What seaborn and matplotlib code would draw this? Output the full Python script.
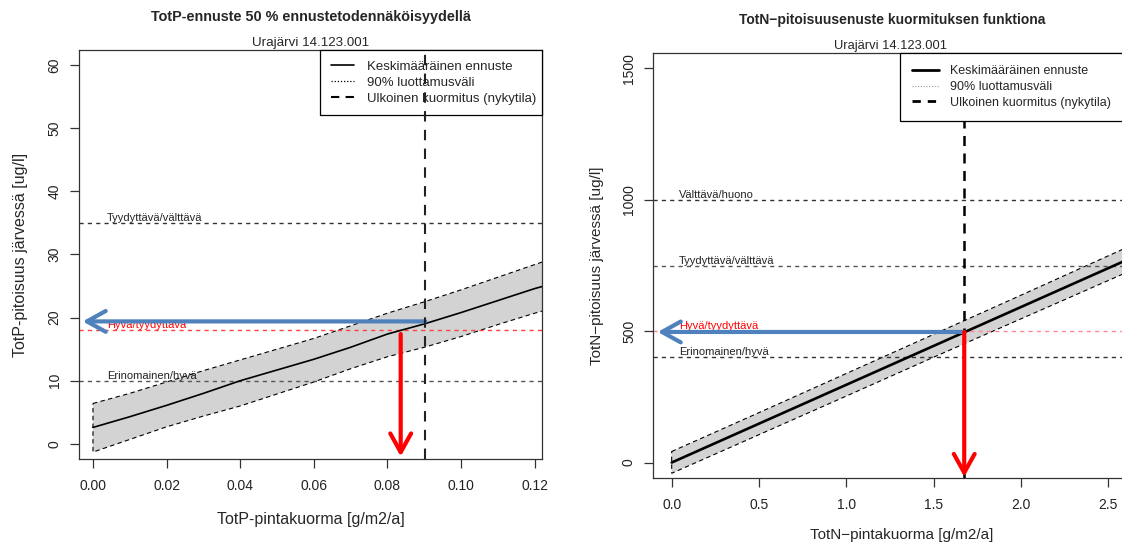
import seaborn as sns
import matplotlib.pyplot as plt
from matplotlib.lines import Line2D
import numpy as np

sns.set_style("ticks")
plt.rcParams['font.family'] = ['Liberation Sans', 'DejaVu Sans']

# --- TotP panel data ---
tp_load = [0.00, 0.01, 0.02, 0.03, 0.04, 0.05, 0.06, 0.07, 0.08, 0.09, 0.10, 0.11, 0.12, 0.1225]
tp_mean = [2.6, 4.3, 6.1, 8.0, 10.0, 11.7, 13.4, 15.3, 17.4, 19.0, 20.8, 22.7, 24.6, 25.0]
tp_upper = [6.4, 8.0, 9.8, 11.6, 13.3, 15.0, 16.7, 18.7, 20.7, 22.5, 24.4, 26.4, 28.4, 28.9]
tp_lower = [-1.3, 0.7, 2.7, 4.4, 6.0, 7.9, 9.8, 11.9, 13.8, 15.3, 17.0, 18.9, 20.7, 21.1]
tp_limits = [35, 18, 10]
tp_limit_names = ["Tyydyttävä/välttävä", "Hyvä/tyydyttävä", "Erinomainen/hyvä"]
tp_current = 0.0903
tp_target_conc = 19.4
tp_target_load = 0.0836

# --- TotN panel data ---
tn_load = [0.0, 0.5, 1.0, 1.5, 2.0, 2.5, 2.75]
tn_mean = [0, 148, 296, 444, 592, 740, 814]
tn_upper = [42, 190, 339, 488, 637, 787, 862]
tn_lower = [-41, 106, 253, 401, 547, 693, 766]
tn_limits = [1000, 750, 500, 400]
tn_limit_names = ["Välttävä/huono", "Tyydyttävä/välttävä", "Hyvä/tyydyttävä", "Erinomainen/hyvä"]
tn_current = 1.675
tn_target_conc = 497

legend_labels = ["Keskimääräinen ennuste", "90% luottamusväli", "Ulkoinen kuormitus (nykytila)"]

BLUE = "#4F81BD"
RED = "#FF0000"

fig = plt.figure(figsize=(11.22, 5.48), dpi=100)
ax1 = fig.add_axes([0.0704, 0.1624, 0.4127, 0.7464])
ax2 = fig.add_axes([0.5823, 0.1272, 0.4421, 0.7766])


def band(ax, x, lo, hi, lw):
    xs = list(x) + list(x)[::-1]
    ys = list(hi) + list(lo)[::-1]
    ax.fill(xs, ys, facecolor="#D3D3D3", edgecolor="black", linestyle=(0, (4, 3)),
            linewidth=lw, zorder=1)


def style_axes(ax):
    for s in ax.spines.values():
        s.set_linewidth(0.9)
        s.set_color("#333333")
    ax.tick_params(axis="both", direction="out", length=6.5, width=0.9, colors="#333333",
                   labelcolor="#222222", labelsize=10)
    ax.tick_params(axis="x", pad=8)
    ax.tick_params(axis="y", pad=6, labelrotation=90)
    plt.setp(ax.get_yticklabels(), va="center")


def arrow(ax, start, end, color):
    ax.annotate("", xy=end, xytext=start,
                arrowprops=dict(arrowstyle="->,head_length=0.9,head_width=0.5", lw=3,
                                color=color, shrinkA=0, shrinkB=0, mutation_scale=15,
                                capstyle="round", joinstyle="round"), zorder=5)


# ---------------- left: TotP ----------------
ax = ax1
band(ax, tp_load, tp_lower, tp_upper, 0.8)
sns.lineplot(x=tp_load, y=tp_mean, ax=ax, color="black", lw=1.2, zorder=3)
lim_cols = ["#333333", "#FF4040", "#555555"]
for v, name, c in zip(tp_limits, tp_limit_names, lim_cols):
    ax.axhline(v, color=c, lw=1, linestyle=(0, (3, 3)), zorder=2)
    ax.text(0.0038, v, name, fontsize=8, color=("#FF0000" if c == "#FF4040" else "#222222"),
            va="bottom", ha="left", zorder=4)
ax.axvline(tp_current, color="#222222", lw=1.5, linestyle=(0, (5, 4)), zorder=8)
arrow(ax, (tp_current, tp_target_conc), (-0.0028, tp_target_conc), BLUE)
arrow(ax, (tp_target_load, 17.4), (tp_target_load, -2.0), RED)
ax.set_xlim(-0.0038, 0.122)
ax.set_ylim(-2.4, 62.4)
ax.set_xticks([0.00, 0.02, 0.04, 0.06, 0.08, 0.10, 0.12])
ax.set_xticklabels(["0.00", "0.02", "0.04", "0.06", "0.08", "0.10", "0.12"])
ax.set_yticks([0, 10, 20, 30, 40, 50, 60])
style_axes(ax)
ax.set_xlabel("TotP-pintakuorma [g/m2/a]", fontsize=11.5, va="center")
ax.set_ylabel("TotP-pitoisuus järvessä [ug/l]", fontsize=11.5, va="center")
ax.xaxis.set_label_coords(0.5, -0.149)
ax.yaxis.set_label_coords(-0.126, 0.5)
h1 = [Line2D([], [], color="black", lw=1.2),
      Line2D([], [], color="black", lw=0.9, linestyle=(0, (1, 1.5))),
      Line2D([], [], color="black", lw=1.5, linestyle=(0, (4, 3)))]
lg = ax.legend(h1, legend_labels,
               loc="upper left", bbox_to_anchor=(0.5205, 1.0, 0.4795, 0.0), mode="expand",
               borderaxespad=0, fancybox=False,
               framealpha=1, edgecolor="black", fontsize=9.5, handlelength=1.75,
               handletextpad=1.0, labelspacing=0.28, borderpad=0.8)
lg.get_frame().set_linewidth(0.9)
lg.set_zorder(6)

# ---------------- right: TotN ----------------
ax = ax2
band(ax, tn_load, tn_lower, tn_upper, 0.8)
sns.lineplot(x=tn_load, y=tn_mean, ax=ax, color="black", lw=1.9, zorder=3)
lim_cols = ["#333333", "#555555", "#FF8A8A", "#333333"]
for v, name, c in zip(tn_limits, tn_limit_names, lim_cols):
    ax.axhline(v, color=c, lw=1, linestyle=(0, (3, 3)), zorder=2)
    ax.text(0.042, v, name, fontsize=8, color=("#FF0000" if c == "#FF8A8A" else "#222222"),
            va="bottom", ha="left", zorder=4)
ax.axvline(tn_current, color="black", lw=1.8, linestyle=(0, (4, 3)), zorder=4)
arrow(ax, (tn_current, tn_target_conc), (-0.08, tn_target_conc), BLUE)
arrow(ax, (tn_current, tn_target_conc), (tn_current, -55), RED)
ax.set_xlim(-0.105, 2.735)
ax.set_ylim(-60, 1560)
ax.set_xticks([0.0, 0.5, 1.0, 1.5, 2.0, 2.5])
ax.set_yticks([0, 500, 1000, 1500])
style_axes(ax)
ax.set_xlabel("TotN\u2212pintakuorma [g/m2/a]", fontsize=11, va="center")
ax.set_ylabel("TotN\u2212pitoisuus järvessä [ug/l]", fontsize=11, va="center")
ax.xaxis.set_label_coords(0.5, -0.133)
ax.yaxis.set_label_coords(-0.1135, 0.5)
h2 = [Line2D([], [], color="black", lw=2),
      Line2D([], [], color="#999999", lw=0.8, linestyle=(0, (1, 1.5))),
      Line2D([], [], color="black", lw=2, linestyle=(0, (3, 2.5)))]
lg = ax.legend(h2, legend_labels,
               loc="upper left", bbox_to_anchor=(0.497, 1.0, 0.503, 0.0), mode="expand",
               borderaxespad=0, fancybox=False,
               framealpha=1, edgecolor="black", fontsize=9, handlelength=2.15,
               handletextpad=0.9, labelspacing=0.3, borderpad=1.0)
lg.get_frame().set_linewidth(0.9)
lg.set_zorder(6)

# titles
fig.text(310.5 / 1122, 1 - 16.7 / 548, "TotP-ennuste 50 % ennustetodennäköisyydellä",
         ha="center", va="center", fontsize=10.4, fontweight="bold")
fig.text(310.5 / 1122, 1 - 43 / 548, "Urajärvi 14.123.001", ha="center", va="center", fontsize=9.6)
fig.text(892 / 1122, 1 - 20 / 548, "TotN\u2212pitoisuusenuste kuormituksen funktiona",
         ha="center", va="center", fontsize=10, fontweight="bold")
fig.text(890 / 1122, 1 - 45.7 / 548, "Urajärvi 14.123.001", ha="center", va="center", fontsize=9.3)

fig.savefig("out.png", dpi=100)
